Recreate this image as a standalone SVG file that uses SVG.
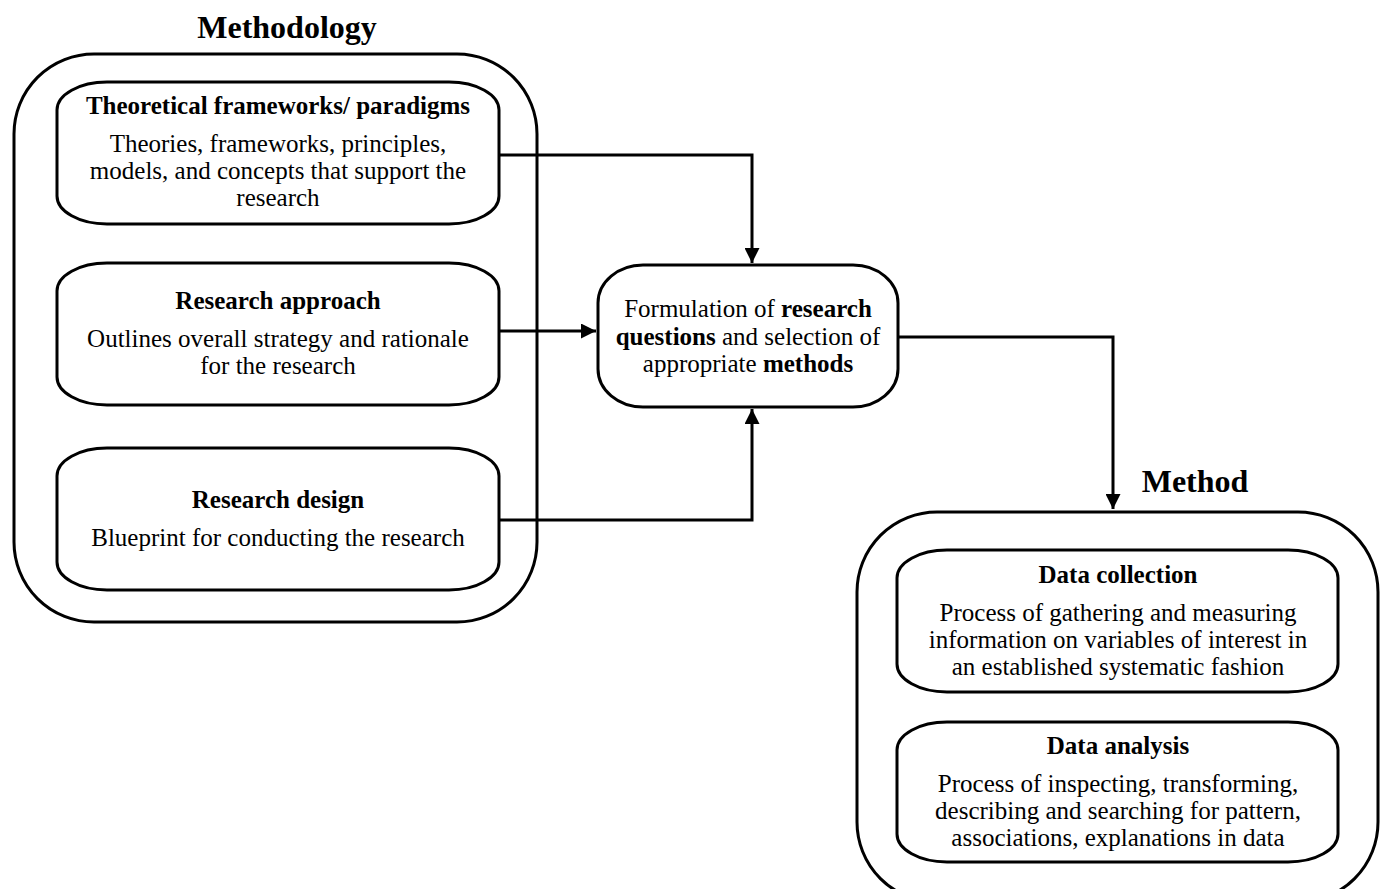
<svg xmlns="http://www.w3.org/2000/svg" width="1383" height="889" viewBox="0 0 1383 889">
<style>
.box{fill:#fff;stroke:#000;stroke-width:3}
.con{fill:none;stroke:#000;stroke-width:3}
text{font-family:"Liberation Serif","Times New Roman",serif;fill:#000;text-anchor:middle}
.h{font-size:32px;font-weight:bold}
.t{font-size:25px;font-weight:bold}
.b{font-size:25px}
</style>
<defs>
<marker id="ah" viewBox="0 0 10 10" refX="10" refY="5" markerWidth="5" markerHeight="5" markerUnits="strokeWidth" orient="auto">
<path d="M0,0 L10,5 L0,10 z" fill="#000"/>
</marker>
</defs>
<g id="methodology">
<text class="h" x="287" y="38">Methodology</text>
<rect class="box" x="14" y="54" width="523" height="568" rx="80" ry="80"/>
</g>
<g id="theoretical">
<rect class="box" x="57" y="82" width="442" height="142" rx="50" ry="28"/>
<text class="t" x="278" y="114">Theoretical frameworks/ paradigms</text>
<text class="b" x="278" y="152">Theories, frameworks, principles,</text>
<text class="b" x="278" y="179">models, and concepts that support the</text>
<text class="b" x="278" y="206">research</text>
</g>
<g id="approach">
<rect class="box" x="57" y="263" width="442" height="142" rx="50" ry="28"/>
<text class="t" x="278" y="309">Research approach</text>
<text class="b" x="278" y="347">Outlines overall strategy and rationale</text>
<text class="b" x="278" y="374">for the research</text>
</g>
<g id="design">
<rect class="box" x="57" y="448" width="442" height="142" rx="50" ry="28"/>
<text class="t" x="278" y="508">Research design</text>
<text class="b" x="278" y="546">Blueprint for conducting the research</text>
</g>
<g id="formulation">
<rect class="box" x="598" y="265" width="300" height="142" rx="45" ry="38"/>
<text class="b" x="748" y="317">Formulation of <tspan font-weight="bold">research</tspan></text>
<text class="b" x="748" y="345"><tspan font-weight="bold">questions</tspan> and selection of</text>
<text class="b" x="748" y="372">appropriate <tspan font-weight="bold">methods</tspan></text>
</g>
<g id="method">
<text class="h" x="1195" y="492">Method</text>
<rect class="box" x="857" y="512" width="521" height="390" rx="80" ry="80"/>
</g>
<g id="collection">
<rect class="box" x="897" y="550" width="441" height="142" rx="50" ry="28"/>
<text class="t" x="1118" y="583">Data collection</text>
<text class="b" x="1118" y="621">Process of gathering and measuring</text>
<text class="b" x="1118" y="648">information on variables of interest in</text>
<text class="b" x="1118" y="675">an established systematic fashion</text>
</g>
<g id="analysis">
<rect class="box" x="897" y="722" width="441" height="140" rx="50" ry="28"/>
<text class="t" x="1118" y="754">Data analysis</text>
<text class="b" x="1118" y="792">Process of inspecting, transforming,</text>
<text class="b" x="1118" y="819">describing and searching for pattern,</text>
<text class="b" x="1118" y="846">associations, explanations in data</text>
</g>
<g id="connectors">
<path class="con" d="M499,155 H752 V263" marker-end="url(#ah)"/>
<path class="con" d="M499,331 H596" marker-end="url(#ah)"/>
<path class="con" d="M499,520 H752 V409" marker-end="url(#ah)"/>
<path class="con" d="M898,337 H1113 V509" marker-end="url(#ah)"/>
</g>
</svg>
